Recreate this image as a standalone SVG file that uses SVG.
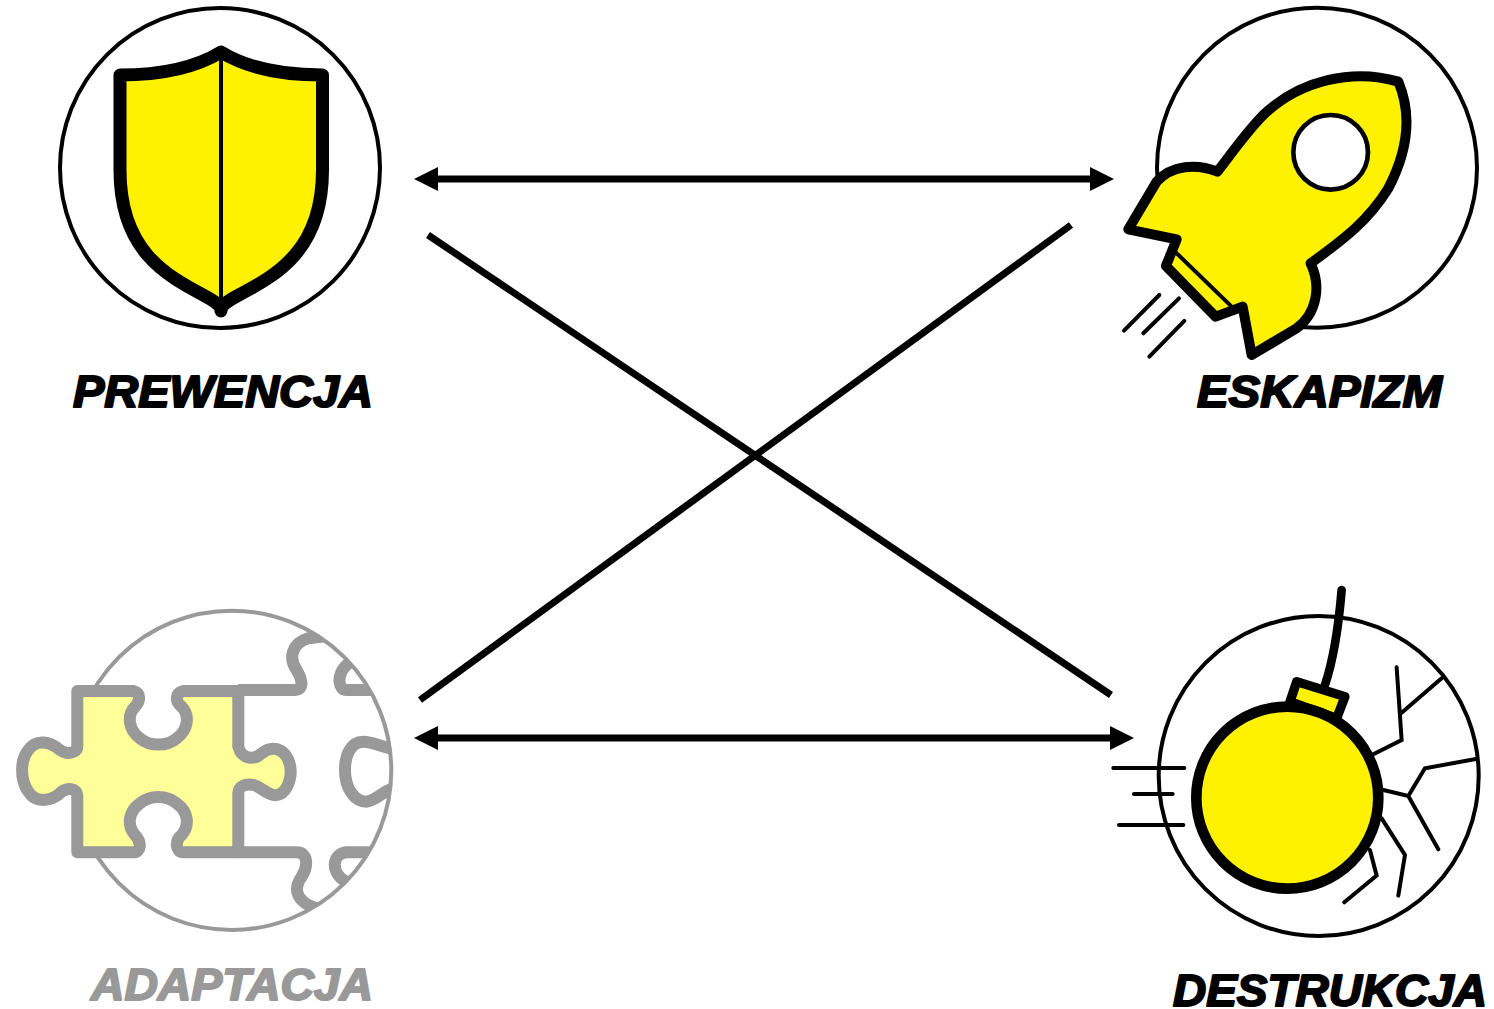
<svg xmlns="http://www.w3.org/2000/svg" width="1494" height="1009" viewBox="0 0 1494 1009">
<style>
.bg{fill:#fff}
.ring{fill:none;stroke:#000;stroke-width:4}
.fig{fill:#fff200;stroke:#000;stroke-linejoin:round;stroke-linecap:round}
.ln{fill:none;stroke:#000;stroke-linecap:round;stroke-linejoin:miter}
.gr{fill:none;stroke:#999;stroke-width:36;stroke-linejoin:round}
.lbl{font-family:"Liberation Sans",Arial,sans-serif;font-weight:700;font-style:italic;font-size:44px;fill:#000;stroke:#000;stroke-width:2;stroke-linejoin:round}
.conn{fill:none;stroke:#000;stroke-width:7}
</style>
<defs>
<marker id="h" markerUnits="userSpaceOnUse" markerWidth="24" markerHeight="24" refX="0" refY="12" orient="auto-start-reverse"><path d="M0,0L24,12L0,24Z" fill="#000"/></marker>
<clipPath id="pc"><circle cx="695" cy="541" r="480"/></clipPath>
</defs>
<rect class="bg" width="1494" height="1009"/>
<g id="connectors">
<line class="conn" x1="438" y1="179" x2="1090" y2="179" marker-start="url(#h)" marker-end="url(#h)"/>
<line class="conn" x1="438" y1="738" x2="1110" y2="738" marker-start="url(#h)" marker-end="url(#h)"/>
<line class="conn" x1="428" y1="235" x2="1111" y2="695"/>
<line class="conn" x1="420" y1="700" x2="1071" y2="225"/>
</g>
<g id="prewencja">
<circle class="ring" cx="220" cy="168" r="160"/>
<path class="fig" stroke-width="13" d="M221,52C195,68 160,75 120,75L120,170C120,250 165,275 205,296C216,302 221,306 221,311C221,306 226,302 237,296C277,275 322.500,250 322.500,170L322.500,75C282,75 247,68 221,52Z"/>
<path class="ln" stroke-width="4" d="M221,55V300"/>
<text class="lbl" x="73" y="407" textLength="300" lengthAdjust="spacingAndGlyphs">PREWENCJA</text>
</g>
<g id="eskapizm">
<circle class="ring" cx="1317" cy="167.700" r="160"/>
<g transform="translate(1100,0) scale(0.3333)">
<path class="fig" stroke-width="30" d="M895,245C760,205 600,240 490,345C440,395 395,460 352,515C290,490 215,495 170,545L85,688L230,718L198,798L347,950L428,920L455,1065L590,985C650,940 665,860 632,790C720,725 800,670 865,565C925,450 935,340 895,245Z"/>
<path class="ln" stroke-width="12" d="M225,755L395,920"/>
<circle cx="692" cy="457" r="112" fill="#fff" stroke="#000" stroke-width="14"/>
<path class="ln" stroke-width="12" d="M72,992L178,885M130,1000L237,895M148,1070L253,963"/>
</g>
<text class="lbl" x="1197" y="407" textLength="245" lengthAdjust="spacingAndGlyphs">ESKAPIZM</text>
</g>
<g id="adaptacja">
<g transform="translate(0,590) scale(0.3333)">
<circle cx="695" cy="541" r="479" fill="none" stroke="#999" stroke-width="12"/>
<g clip-path="url(#pc)">
<path class="gr" d="M715,300L885,300C915,300 905,265 890,240C865,205 875,160 925,145L970,140M1120,300L1040,300C1015,300 1010,260 1035,230L1060,205M715,787L890,787C925,787 925,830 905,860C880,895 890,925 925,945L960,960M1110,787L1040,787C1000,790 990,840 1030,870L1050,880M1190,480C1140,470 1120,455 1090,455C1050,455 1035,500 1035,540C1035,590 1060,635 1100,635C1130,630 1145,605 1190,590"/>
</g>
<path class="gr" style="fill:#ffff99" d="M232,303L400,303C425,310 420,335 405,350C380,375 385,420 420,445C450,470 500,470 530,445C565,420 570,375 545,350C525,335 525,310 550,303L715,303L715,470C725,510 765,510 785,490C815,465 850,475 865,510C880,545 870,590 845,610C815,630 785,590 760,585C735,580 715,590 715,610L715,787L550,787C525,787 525,750 545,735C570,705 565,665 530,640C500,615 450,615 420,640C385,665 380,705 405,735C425,755 425,787 400,787L232,787L232,620C232,590 200,595 185,605C160,630 110,645 85,605C60,570 60,510 85,480C110,445 150,455 180,480C200,495 232,490 232,470Z"/>
</g>
<text class="lbl" style="fill:#999;stroke:#999" x="91" y="1000" textLength="282" lengthAdjust="spacingAndGlyphs">ADAPTACJA</text>
</g>
<g id="destrukcja">
<circle class="ring" cx="1318.700" cy="776" r="160"/>
<g transform="translate(1100,570) scale(0.3333)">
<path class="ln" stroke-width="12" d="M890,292L905,510L820,553M905,428L1025,325M1128,567L975,595L925,678L850,660M925,678L1015,838M845,745L915,855L895,977M810,840L830,917L733,997"/>
<path class="ln" stroke-width="12" d="M40,594H253M102,672H218M57,765H250"/>
<path class="ln" stroke-width="26" d="M725,60C715,180 700,270 675,345"/>
<path class="fig" stroke-width="28" d="M590,335L735,380L710,445L570,395Z"/>
<circle class="fig" cx="562" cy="683" r="273" stroke-width="32"/>
</g>
<text class="lbl" x="1173" y="1006" textLength="314" lengthAdjust="spacingAndGlyphs">DESTRUKCJA</text>
</g>
</svg>
